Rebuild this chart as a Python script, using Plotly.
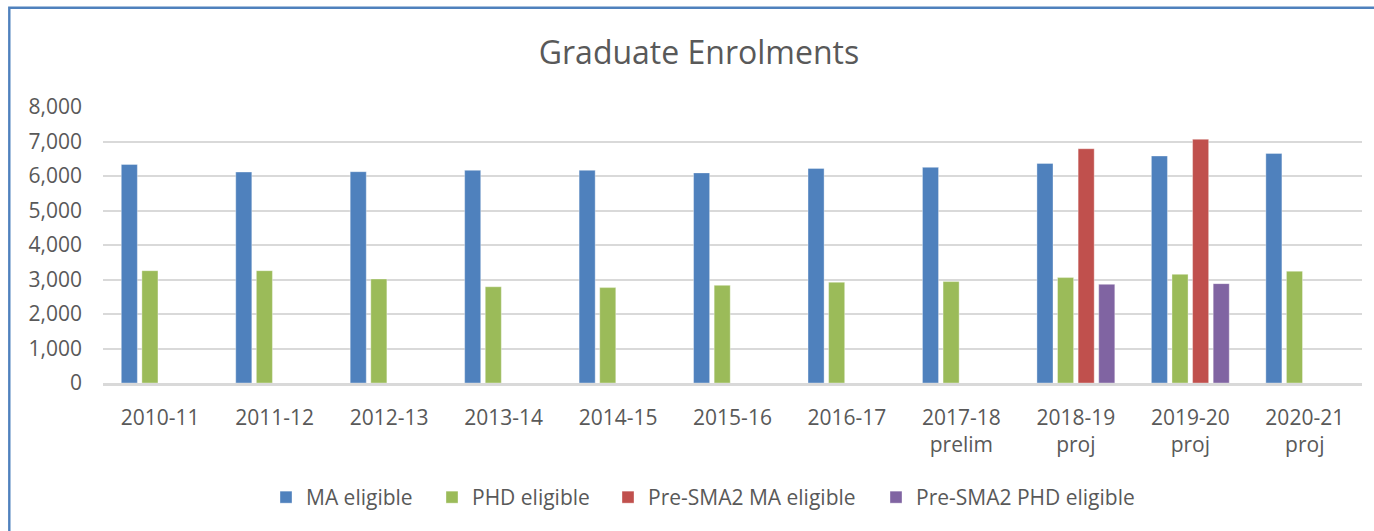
import plotly.graph_objects as go

categories = ["2010-11", "2011-12", "2012-13", "2013-14", "2014-15", "2015-16",
              "2016-17", "2017-18<br>prelim", "2018-19<br>proj", "2019-20<br>proj", "2020-21<br>proj"]
ma_eligible = [6335, 6115, 6125, 6165, 6165, 6090, 6220, 6250, 6365, 6580, 6655]
phd_eligible = [3255, 3255, 3015, 2790, 2765, 2830, 2920, 2940, 3055, 3150, 3240]
pre_sma2_ma = [None, None, None, None, None, None, None, None, 6790, 7065, None]
pre_sma2_phd = [None, None, None, None, None, None, None, None, 2860, 2880, None]

series = [
    ("MA eligible", ma_eligible, "#4F81BD"),
    ("PHD eligible", phd_eligible, "#9BBB59"),
    ("Pre-SMA2 MA eligible", pre_sma2_ma, "#C0504D"),
    ("Pre-SMA2 PHD eligible", pre_sma2_phd, "#8064A2"),
]

FONT = "Open Sans"
TXT = "#595959"

W, H = 1374, 531
# target page pixel positions of the plot area
PL, PR, PT, PB = 103, 1362, 107, 383
L, T = PL, PT
R = W - PR
B = H - PB
pw, ph = W - L - R, H - T - B

def px_x(p):
    return (p - PL) / pw

def px_y(p):
    return (PB - p) / ph

legend_square_left = [280, 446, 622, 890]
SYM_OFF = 14

fig = go.Figure()
legend_layouts = {}
for i, (name, vals, col) in enumerate(series):
    lg = "legend" if i == 0 else f"legend{i + 1}"
    fig.add_trace(go.Bar(x=categories, y=vals, name=name, legend=lg,
                         marker=dict(color=col, line=dict(width=0.6, color="rgba(255,255,255,0.6)"))))
    legend_layouts[lg] = dict(orientation="h", x=px_x(legend_square_left[i] - SYM_OFF), xanchor="left",
                              y=px_y(497.5), yanchor="middle", itemwidth=30,
                              bgcolor="rgba(0,0,0,0)",
                              font=dict(family=FONT, size=21, color=TXT))

fig.update_layout(
    width=W, height=H,
    margin=dict(l=L, r=R, t=T, b=B),
    paper_bgcolor="white", plot_bgcolor="white",
    barmode="group", bargap=0.28, bargroupgap=0.22,
    font=dict(family=FONT, color=TXT, size=21),
    title=dict(text="Graduate Enrolments", x=699 / W, xanchor="center", xref="container",
               y=1 - 53 / H, yanchor="middle", yref="container",
               font=dict(family=FONT, size=32, color=TXT)),
    showlegend=True,
    xaxis=dict(type="category", showgrid=False, showline=True, linecolor="#D9D9D9", linewidth=2.5,
               ticks="", ticklabelstandoff=14, tickfont=dict(size=21, color=TXT)),
    yaxis=dict(range=[0, 8000], dtick=1000, tickformat=",d", showgrid=True,
               gridcolor="#D9D9D9", gridwidth=1.6, zeroline=False, showline=False,
               ticks="", ticklabelstandoff=20, tickfont=dict(size=21, color=TXT)),
    shapes=[dict(type="rect", xref="paper", yref="paper",
                 x0=px_x(9.3), x1=px_x(1374 + 10), y0=px_y(531 + 10), y1=px_y(7.7),
                 line=dict(color="#4F81BD", width=2.4), fillcolor="rgba(0,0,0,0)", layer="above")],
    **legend_layouts,
)

fig.write_html("out.html", config={"displayModeBar": False},
               post_script="document.body.style.margin='0';")
